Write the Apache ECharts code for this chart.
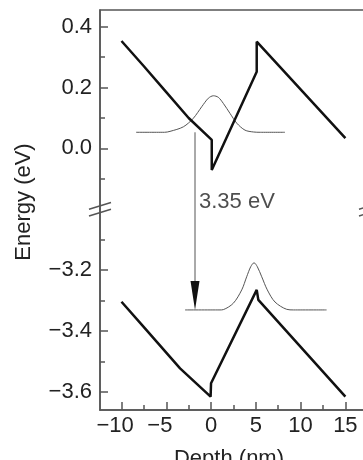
<!DOCTYPE html>
<html>
<head>
<meta charset="utf-8">
<script src="https://cdn.jsdelivr.net/npm/echarts@6/dist/echarts.min.js"></script>
<style>html,body{margin:0;padding:0;background:#fff;}#c{width:363px;height:460px;}</style>
</head>
<body>
<div id="c"></div>
<script>
// ---- data (depth in nm, energy in eV) ----
var conductionBand = [[-10,0.353],[-7.5,0.27],[-5,0.185],[-2.5,0.10],[0.08,0.028],[0.08,-0.071],[5.1,0.252],[5.1,0.351],[15,0.034]];
var valenceBand = [[-10,-3.304],[-7.55,-3.386],[-3.46,-3.523],[-0.05,-3.616],[0.0,-3.572],[5.1,-3.265],[5.28,-3.298],[15,-3.616]];
var electronWave = [[-8.37,0.053],[-5.2,0.053],[-4.58,0.056],[-3.09,0.071],[-1.98,0.099],[-1.04,0.137],[-0.30,0.165],[0.26,0.173],[0.81,0.168],[1.37,0.148],[2.12,0.115],[2.87,0.083],[3.79,0.060],[4.72,0.054],[5.5,0.053],[8.26,0.053]];
var holeWave = [[-2.9,-3.331],[1.0,-3.331],[1.37,-3.330],[2.49,-3.309],[3.43,-3.265],[3.98,-3.222],[4.43,-3.189],[4.80,-3.176],[5.17,-3.189],[5.66,-3.222],[6.28,-3.265],[7.14,-3.305],[8.45,-3.329],[9.2,-3.331],[12.9,-3.331]];
var transition = [[-1.79, 0.053, -3.331]];
var transitionLabel = '3.35 eV';
var transitionLabelPos = [[-1.79, -0.175]];
var xMajorTicks = [-10,-5,0,5,10,15];
var xMinorTicks = [-7.5,-2.5,2.5,7.5,12.5];
var yMajorTicks = [0.4,0.2,0.0,-3.2,-3.4,-3.6];
var yMinorTicks = [0.3,0.1,-0.1,-3.1,-3.3,-3.5];
var yBreak = {start:-3.0, end:-0.2};
var xRange = [-12.4, 17.75];
var yRange = [-3.66, 0.455];

var FONT = '"Liberation Sans", Arial, Helvetica, sans-serif';
var AX = '#555';
function fmt(v, d){ var s = Math.abs(v).toFixed(d); return (v < -1e-9 ? '\u2212' : '') + s; }

var breaks = [{start: yBreak.start, end: yBreak.end, gap: 0}];
function yAx(extra){
  var a = {
    type:'value', position:'left', min:yRange[0], max:yRange[1], breaks: breaks,
    breakArea:{show:false},
    splitLine:{show:false}, axisLine:{show:false, onZero:false},
    axisLabel:{show:false}, axisTick:{show:false}
  };
  for (var k in extra) a[k] = extra[k];
  return a;
}
function xAx(extra){
  var a = {type:'value', position:'bottom', min:xRange[0], max:xRange[1], splitLine:{show:false},
    axisLine:{show:false, onZero:false}, axisLabel:{show:false}, axisTick:{show:false}};
  for (var k in extra) a[k] = extra[k];
  return a;
}

var chart = echarts.init(document.getElementById('c'));
chart.setOption({
  animation:false,
  backgroundColor:'#fff',
  grid:{left:100, right:-7, top:10, bottom:50, show:true, borderColor:AX, borderWidth:1.5, backgroundColor:'transparent',
    containLabel:false, outerBoundsMode:'none'},
  xAxis:[
    xAx({
      axisLine:{show:true, onZero:false, lineStyle:{color:AX, width:1.5}},
      axisTick:{show:true, inside:true, length:8, customValues:xMajorTicks, lineStyle:{color:AX, width:1.5}},
      axisLabel:{show:true, customValues:xMajorTicks, margin:5, color:'#222', fontSize:22, fontFamily:FONT,
        formatter:function(v){ return v < 0 ? fmt(v,0) + '{p| }' : fmt(v,0); },
        rich:{p:{width:12.8, fontSize:22, fontFamily:FONT}}},
      name:'Depth (nm)', nameLocation:'middle', nameGap:38, nameMoveOverlap:false,
      nameTextStyle:{color:'#222', fontSize:22, fontFamily:FONT, padding:[0,12,0,0]}
    }),
    xAx({
      axisLine:{show:false, onZero:false},
      axisTick:{show:true, inside:true, length:5, customValues:xMinorTicks, lineStyle:{color:AX, width:1.5}}
    })
  ],
  yAxis:[
    yAx({
      axisLine:{show:true, onZero:false, lineStyle:{color:AX, width:1.5}},
      axisTick:{show:true, inside:true, length:8, customValues:yMajorTicks, lineStyle:{color:AX, width:1.5}},
      axisLabel:{show:true, customValues:yMajorTicks, margin:8, color:'#222', fontSize:22, fontFamily:FONT,
        formatter:function(v){return fmt(v,1);}},
      name:'Energy (eV)', nameLocation:'middle', nameGap:65, nameMoveOverlap:false,
      nameTextStyle:{color:'#222', fontSize:22, fontFamily:FONT, padding:[0,0,0,16]}
    }),
    yAx({
      axisLine:{show:false, onZero:false},
      axisTick:{show:true, inside:true, length:5, customValues:yMinorTicks, lineStyle:{color:AX, width:1.5}}
    })
  ],
  series:[
    {type:'line', data:electronWave, showSymbol:false, smooth:0.3, lineStyle:{color:'#555', width:1}, z:2},
    {type:'line', data:holeWave, showSymbol:false, smooth:0.3, lineStyle:{color:'#555', width:1}, z:2},
    {type:'line', data:conductionBand, showSymbol:false, lineStyle:{color:'#111', width:2.5}, z:3},
    {type:'line', data:valenceBand, showSymbol:false, lineStyle:{color:'#111', width:2.5}, z:3},
    {type:'custom', data:transition, clip:false, z:4,
      renderItem:function(params, api){
        var p1 = api.coord([api.value(0), api.value(1)]);
        var p2 = api.coord([api.value(0), api.value(2)]);
        var hl = 29, hw = 4.5;
        return {type:'group', children:[
          {type:'line', shape:{x1:p1[0], y1:p1[1], x2:p2[0], y2:p2[1]-hl+2}, style:{stroke:'#555', lineWidth:1}},
          {type:'polygon', shape:{points:[[p2[0]-hw,p2[1]-hl],[p2[0]+hw,p2[1]-hl],[p2[0],p2[1]]]}, style:{fill:'#111'}}
        ]};
      }
    },
    {type:'scatter', data:transitionLabelPos, symbolSize:0, z:5, silent:true,
      label:{show:true, position:'right', distance:4, formatter:transitionLabel, color:'#222', fontSize:22, fontFamily:FONT}},
    {type:'custom', data:[[xRange[0], yBreak.end],[xRange[1], yBreak.end]], clip:false, z:6,
      renderItem:function(params, api){
        var p = api.coord([api.value(0), api.value(1)]);
        var w = 11, h = 3.4, s = 3.4;
        return {type:'group', children:[
          {type:'line', shape:{x1:p[0]-w, y1:p[1]+h-s, x2:p[0]+w, y2:p[1]-h-s}, style:{stroke:AX, lineWidth:1.5}},
          {type:'line', shape:{x1:p[0]-w, y1:p[1]+h+s, x2:p[0]+w, y2:p[1]-h+s}, style:{stroke:AX, lineWidth:1.5}}
        ]};
      }
    }
  ]
});
</script>
</body>
</html>
